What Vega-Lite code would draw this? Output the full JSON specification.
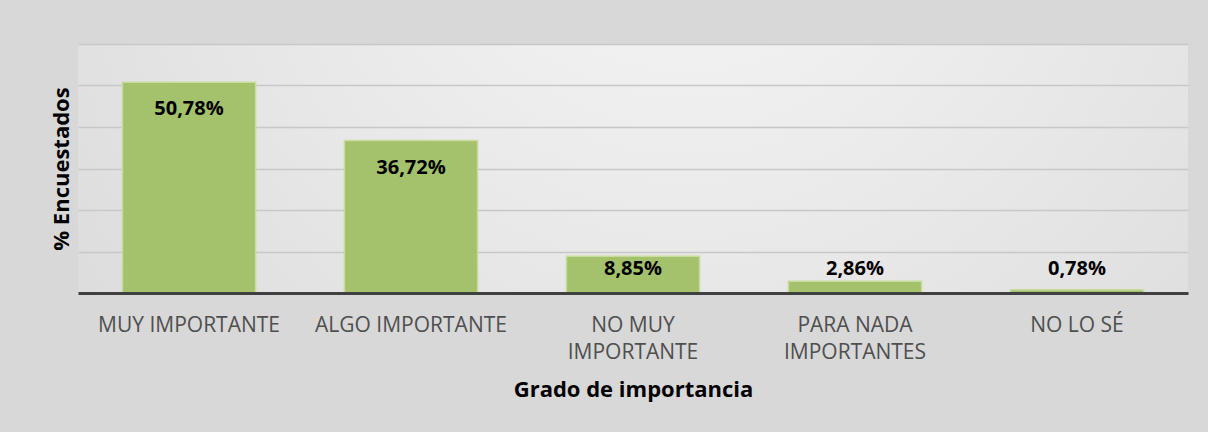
{
  "$schema": "https://vega.github.io/schema/vega-lite/v6.json",
  "width": 1110,
  "height": 249,
  "autosize": {"type": "none"},
  "padding": {"left": 78, "top": 44, "right": 20, "bottom": 139},
  "background": "#d8d8d8",
  "config": {
    "font": "Open Sans",
    "view": {
      "stroke": null,
      "fill": {"gradient": "radial", "x1": 0.55, "y1": 0.2, "x2": 0.55, "y2": 0.2, "r1": 0, "r2": 0.75,
        "stops": [{"offset": 0, "color": "#f8f8f8"}, {"offset": 1, "color": "#dadada"}]}
    }
  },
  "data": {
    "values": [
      {"grado": "MUY IMPORTANTE", "pct": 50.78, "label": "50,78%"},
      {"grado": "ALGO IMPORTANTE", "pct": 36.72, "label": "36,72%"},
      {"grado": "NO MUY IMPORTANTE", "pct": 8.85, "label": "8,85%"},
      {"grado": "PARA NADA IMPORTANTES", "pct": 2.86, "label": "2,86%"},
      {"grado": "NO LO SÉ", "pct": 0.78, "label": "0,78%"}
    ]
  },
  "encoding": {
    "x": {
      "field": "grado", "type": "nominal", "sort": null,
      "scale": {"paddingInner": 0.4, "paddingOuter": 0.2},
      "axis": {
        "title": "Grado de importancia",
        "titleFont": "Open Sans", "titleFontSize": 22, "titleFontWeight": "bold", "titleColor": "#000000",
        "titlePadding": 17,
        "labelAngle": 0, "labelFontSize": 21, "labelColor": "#4f4f4f", "labelFont": "Open Sans",
        "labelPadding": 32, "labelLineHeight": 27, "labelBaseline": "middle", "labelLimit": 400,
        "labelExpr": "datum.label == 'NO MUY IMPORTANTE' ? ['NO MUY', 'IMPORTANTE'] : datum.label == 'PARA NADA IMPORTANTES' ? ['PARA NADA', 'IMPORTANTES'] : datum.label",
        "ticks": false, "domainColor": "#404040", "domainWidth": 3, "grid": false, "zindex": 1
      }
    }
  },
  "layer": [
    {
      "mark": {"type": "bar", "color": "#a4c26b", "stroke": "#c8dc9e", "strokeWidth": 1.5},
      "encoding": {
        "y": {
          "field": "pct", "type": "quantitative",
          "scale": {"domain": [0, 60], "nice": false},
          "axis": {
            "title": "% Encuestados", "titleFontSize": 22, "titleFontWeight": "bold", "titleColor": "#000000",
            "titlePadding": 5,
            "values": [0, 10, 20, 30, 40, 50, 60],
            "labels": false, "ticks": false, "domain": false,
            "gridColor": "#c8c8c8", "gridWidth": 1.5
          }
        }
      }
    },
    {
      "transform": [{"filter": "datum.pct >= 10"}],
      "mark": {"type": "text", "fontSize": 20, "fontWeight": "bold", "color": "#000000", "baseline": "middle", "dy": 27},
      "encoding": {
        "y": {"field": "pct", "type": "quantitative"},
        "text": {"field": "label"}
      }
    },
    {
      "transform": [{"filter": "datum.pct < 10"}],
      "mark": {"type": "text", "fontSize": 20, "fontWeight": "bold", "color": "#000000", "baseline": "middle", "dy": -24},
      "encoding": {
        "y": {"datum": 0, "type": "quantitative"},
        "text": {"field": "label"}
      }
    }
  ]
}
